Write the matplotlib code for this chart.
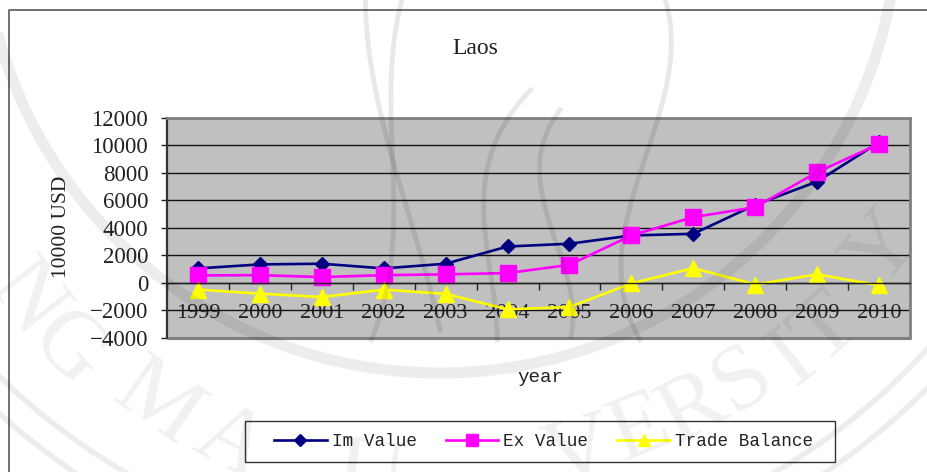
import numpy as np
import matplotlib
matplotlib.use("Agg")
import matplotlib.pyplot as plt
from matplotlib.patches import Rectangle

YEARS = ["1999", "2000", "2001", "2002", "2003", "2004", "2005", "2006", "2007", "2008", "2009", "2010"]
IM_VALUE = [1050, 1340, 1390, 1050, 1390, 2640, 2840, 3440, 3560, 5660, 7350, 10200]
EX_VALUE = [540, 560, 420, 560, 620, 710, 1310, 3440, 4770, 5490, 8030, 10080]
TRADE_BALANCE = [-490, -780, -1030, -490, -800, -1920, -1750, -40, 1070, -120, 620, -180]
Y_TICKS = [-4000, -2000, 0, 2000, 4000, 6000, 8000, 10000, 12000]

W, H = 927, 472
SERIF = "Liberation Serif"
MONO = "Liberation Mono"

fig = plt.figure(figsize=(W / 100, H / 100), dpi=100, facecolor="white")

# plot area in pixels: x 167-910, y 117.5-338
ax = fig.add_axes([167 / W, 1 - 338 / H, 743 / W, 220.5 / H], facecolor="#c0c0c0", zorder=2)
x = np.arange(len(YEARS))
ax.plot(x, IM_VALUE, color="#000080", lw=1.9, marker="D", ms=7.6, label="Im Value", clip_on=False)
ax.plot(x, EX_VALUE, color="#ff00ff", lw=1.9, marker="s", ms=11, label="Ex Value", clip_on=False)
ax.plot(x, TRADE_BALANCE, color="#ffff00", lw=1.9, marker="^", ms=11, label="Trade Balance", clip_on=False)
ax.set_xlim(-0.5, len(YEARS) - 0.5)
ax.set_ylim(-4000, 12000)
ax.set_yticks(Y_TICKS)
ax.set_yticklabels([str(v).replace("-", "\u2212") for v in Y_TICKS], family=SERIF, fontsize=16.5, color="#222222")
ax.tick_params(axis="y", length=4.5, width=1, color="#222222", pad=9)
ax.grid(axis="y", color="#111111", lw=1)
ax.set_axisbelow(True)

# category axis crosses at zero, ticks sit between the years
ax.spines["bottom"].set_position(("data", 0))
ax.spines["bottom"].set_color("#222222")
ax.spines["bottom"].set_linewidth(1)
ax.set_xticks(np.arange(-0.5, len(YEARS)))
ax.set_xticklabels([])
ax.set_xticks(x, minor=True)
ax.set_xticklabels(YEARS, minor=True, family=SERIF, fontsize=16, color="#222222")
ax.tick_params(axis="x", which="major", length=5, width=1, color="#222222", direction="out")
ax.tick_params(axis="x", which="minor", length=0, pad=15)
for name in ["top", "right"]:
    ax.spines[name].set_color("#808080")
    ax.spines[name].set_linewidth(2)
ax.spines["left"].set_color("#333333")
ax.spines["left"].set_linewidth(1.6)
ax.add_patch(Rectangle((0, 0), 1, 0, transform=ax.transAxes, fill=False, ec="#808080", lw=2.2, clip_on=False))

# page layer in pixel coordinates
page = fig.add_axes([0, 0, 1, 1], zorder=1)
page.set_xlim(0, W)
page.set_ylim(H, 0)
page.axis("off")
page.plot([9, 9, W], [H, 10, 10], color="#666666", lw=1.3)
page.add_patch(Rectangle((245, 421), 590, 41, fc="white", ec="#333333", lw=1))

page.text(475, 48, "Laos", family=SERIF, fontsize=17, ha="center", va="center", color="#222222")
page.text(62, 227, "10000 USD", family=SERIF, fontsize=15.5, rotation=90, ha="center", va="center", color="#222222")
page.text(540, 378, "year", family=MONO, fontsize=13.8, ha="center", va="center", color="#222222")

handles, labels = ax.get_legend_handles_labels()
leg = page.legend(handles, labels, ncol=3, frameon=False, loc="center", bbox_to_anchor=(543.5 / W, 1 - 442 / H),
                  bbox_transform=fig.transFigure, prop={"family": MONO, "size": 12.7}, handlelength=3.0,
                  handletextpad=0.28, columnspacing=1.64, markerscale=0.8, borderpad=0, labelcolor="#222222")

# faint seal over the whole page
seal = fig.add_axes([0, 0, 1, 1], zorder=3)
seal.set_xlim(0, W)
seal.set_ylim(H, 0)
seal.axis("off")
SEAL = "#000000"
SEAL_ALPHA = 0.07
t = np.linspace(0, np.pi, 300)
for cx, cy, r, lw in [(440, -85, 458, 8), (450, -85, 645, 4), (450, -85, 672, 4)]:
    seal.plot(cx + r * np.cos(t), cy + r * np.sin(t), color=SEAL, alpha=SEAL_ALPHA, lw=lw)
STROKES = [
    ([365, 372, 378, 405, 425, 440], [0, 60, 110, 200, 270, 330]),
    ([400, 398, 385, 395, 385, 370], [0, 70, 140, 250, 300, 340]),
    ([666, 668, 660, 640, 625, 622, 640], [0, 60, 120, 175, 220, 280, 340]),
    ([530, 490, 480, 500, 495], [90, 170, 240, 300, 340]),
    ([560, 545, 555, 575, 570], [110, 200, 250, 300, 335]),
]
for sx, sy in STROKES:
    yy = np.linspace(sy[0], sy[-1], 80)
    seal.plot(np.polyval(np.polyfit(sy, sx, 3), yy), yy, color=SEAL, alpha=0.09, lw=3.5)
SEAL_LETTERS = [("N", 25, 300, -52), ("G", 67, 350, -46), ("M", 157, 405, -35), ("A", 230, 445, -28),
                ("U", 370, 478, -8), ("V", 580, 455, 16), ("E", 640, 430, 22), ("R", 693, 410, 28),
                ("S", 743, 380, 33), ("I", 793, 360, 38), ("T", 827, 330, 42), ("Y", 885, 250, 50)]
for ch, lx, ly, rot in SEAL_LETTERS:
    seal.text(lx, ly, ch, family=SERIF, fontsize=68, color=SEAL, alpha=0.06, rotation=rot,
              rotation_mode="anchor", ha="center", va="center")

fig.savefig("out.png", dpi=100)
